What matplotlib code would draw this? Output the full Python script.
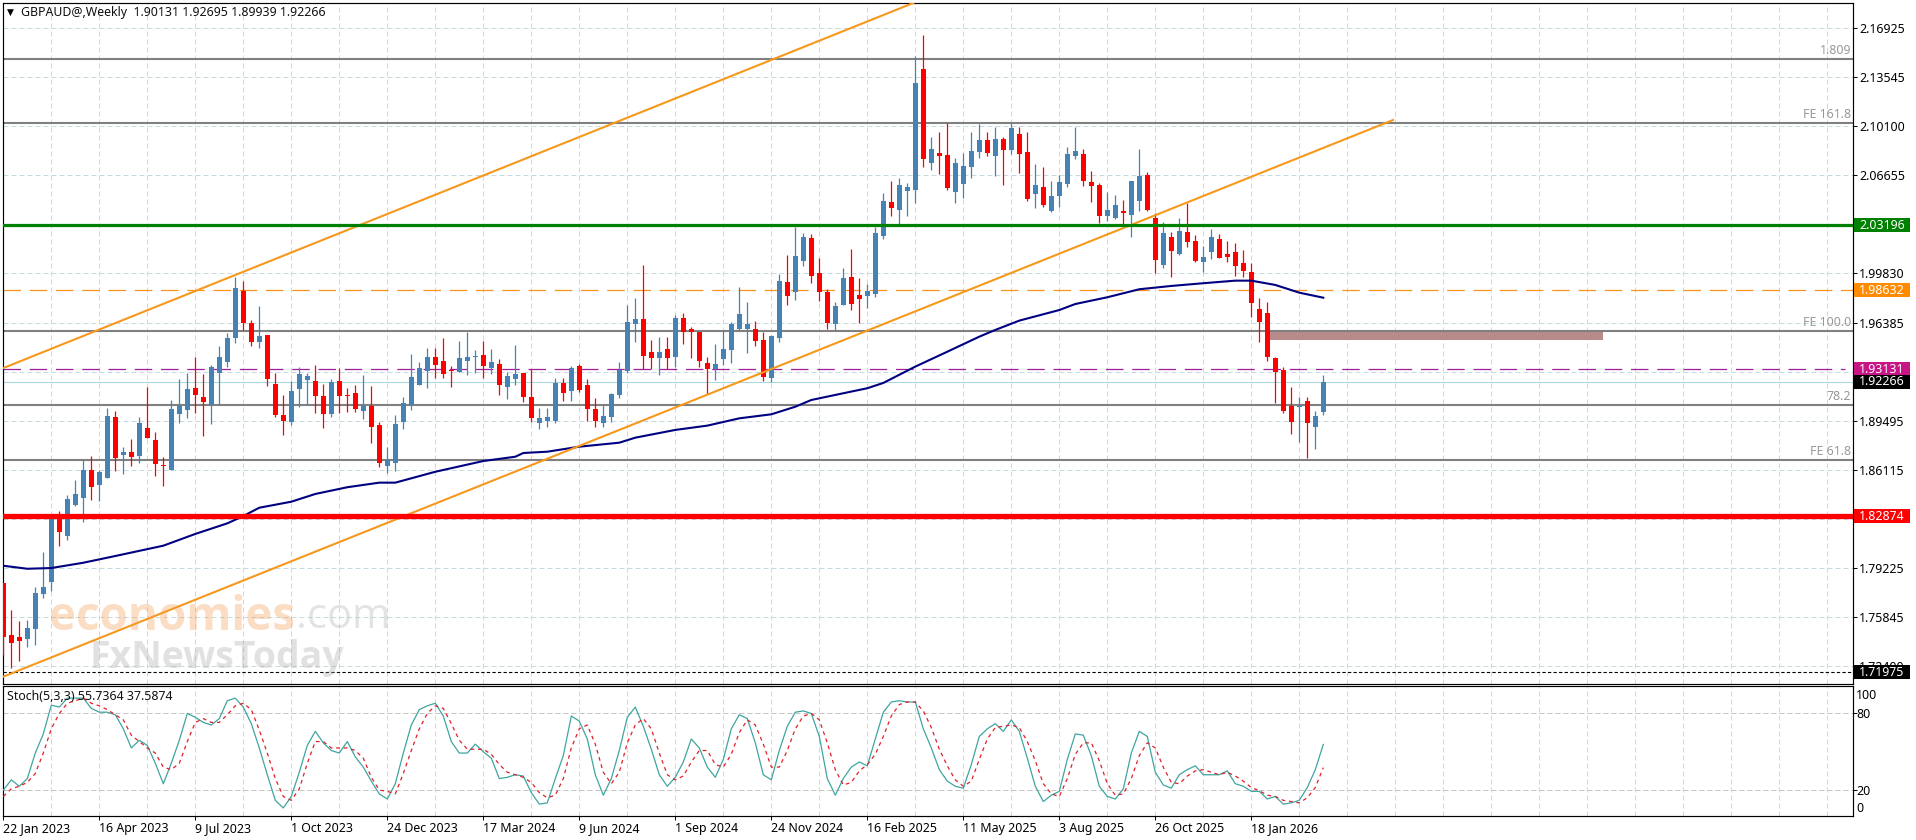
#!/usr/bin/env python3
"""GBPAUD weekly candle chart with stochastic sub window"""

import matplotlib
matplotlib.use('Agg')
import matplotlib.pyplot as plt
from matplotlib.patches import Rectangle
from matplotlib.transforms import blended_transform_factory
import numpy as np

plt.rcParams['font.family'] = ['Noto Sans', 'DejaVu Sans']

W, H = 1916, 840

opens = [
    1.7821, 1.7458, 1.7444, 1.7430, 1.7500, 1.7744, 1.7828, 1.8281, 1.8149, 1.8365,
    1.8414, 1.8609, 1.8505, 1.8554, 1.8979, 1.8714, 1.8735, 1.8707, 1.8903, 1.8819,
    1.8644, 1.8609, 1.9000, 1.9028, 1.9182, 1.9119, 1.9063, 1.9286, 1.9363, 1.9531,
    1.9859, 1.9635, 1.9503, 1.9552, 1.9210, 1.8993, 1.8944, 1.9175, 1.9238, 1.9231,
    1.9126, 1.9000, 1.9231, 1.9133, 1.9147, 1.9021, 1.9056, 1.8923, 1.8637, 1.8658,
    1.8944, 1.9063, 1.9203, 1.9300, 1.9398, 1.9370, 1.9307, 1.9293, 1.9370, 1.9398,
    1.9412, 1.9321, 1.9349, 1.9189, 1.9245, 1.9286, 1.9119, 1.8937, 1.8951, 1.8951,
    1.9217, 1.9161, 1.9335, 1.9203, 1.9035, 1.8937, 1.8979, 1.9133, 1.9300, 1.9628,
    1.9663, 1.9433, 1.9391, 1.9454, 1.9398, 1.9670, 1.9594, 1.9573, 1.9356, 1.9314,
    1.9384, 1.9447, 1.9594, 1.9594, 1.9594, 1.9517, 1.9252, 1.9531, 1.9922, 1.9852,
    2.0068, 2.0229, 1.9984, 1.9852, 1.9628, 1.9761, 1.9957, 1.9831, 1.9824, 1.9838,
    2.0243, 2.0480, 2.0424, 2.0557, 2.0564, 2.1408, 2.0752, 2.0822, 2.0808, 2.0550,
    2.0606, 2.0724, 2.0829, 2.0913, 2.0801, 2.0920, 2.0843, 2.0955, 2.0829, 2.0536,
    2.0585, 2.0417, 2.0522, 2.0606, 2.0801, 2.0815, 2.0620, 2.0599, 2.0382, 2.0368,
    2.0417, 2.0389, 2.0487, 2.0669, 2.0368, 2.0040, 2.0236, 2.0117, 2.0271, 2.0208,
    2.0061, 2.0131, 2.0222, 2.0117, 2.0131, 2.0054, 1.9991, 1.9733, 1.9705, 1.9391,
    1.9307, 1.9056, 1.9049, 1.9091, 1.8909, 1.90131,
]
highs = [
    1.7821, 1.7632, 1.7555, 1.7562, 1.7793, 1.8037, 1.8281, 1.8323, 1.8435, 1.8540,
    1.8679, 1.8707, 1.8609, 1.9042, 1.9021, 1.8770, 1.8826, 1.8979, 1.9189, 1.8875,
    1.8700, 1.9098, 1.9245, 1.9286, 1.9398, 1.9280, 1.9342, 1.9475, 1.9566, 1.9957,
    1.9929, 1.9656, 1.9754, 1.9552, 1.9286, 1.9133, 1.9231, 1.9328, 1.9286, 1.9342,
    1.9210, 1.9245, 1.9321, 1.9182, 1.9203, 1.9273, 1.9196, 1.8944, 1.8770, 1.8993,
    1.9119, 1.9419, 1.9363, 1.9461, 1.9461, 1.9531, 1.9335, 1.9510, 1.9573, 1.9447,
    1.9510, 1.9454, 1.9384, 1.9293, 1.9482, 1.9286, 1.9314, 1.9042, 1.9042, 1.9252,
    1.9252, 1.9335, 1.9349, 1.9245, 1.9112, 1.9063, 1.9147, 1.9363, 1.9761, 1.9810,
    2.0040, 1.9517, 1.9538, 1.9538, 1.9691, 1.9705, 1.9608, 1.9573, 1.9398, 1.9489,
    1.9580, 1.9642, 1.9887, 1.9782, 1.9649, 1.9573, 1.9552, 1.9978, 2.0110, 2.0306,
    2.0264, 2.0257, 2.0089, 1.9873, 1.9782, 2.0019, 2.0152, 1.9950, 1.9908, 2.0306,
    2.0543, 2.0627, 2.0648, 2.0613, 2.1499, 2.1646, 2.0934, 2.0969, 2.1031, 2.0787,
    2.0822, 2.0969, 2.1025, 2.0969, 2.1004, 2.0934, 2.1031, 2.1004, 2.0969, 2.0745,
    2.0724, 2.0627, 2.0669, 2.0864, 2.1004, 2.0850, 2.0696, 2.0613, 2.0550, 2.0529,
    2.0494, 2.0627, 2.0850, 2.0690, 2.0403, 2.0340, 2.0271, 2.0368, 2.0473, 2.0250,
    2.0173, 2.0292, 2.0257, 2.0208, 2.0194, 2.0145, 2.0054, 1.9810, 1.9782, 1.9398,
    1.9328, 1.9189, 1.9119, 1.9119, 1.9021, 1.92695,
]
lows = [
    1.7318, 1.7227, 1.7276, 1.7374, 1.7388, 1.7716, 1.7765, 1.8079, 1.8121, 1.8358,
    1.8246, 1.8400, 1.8393, 1.8554, 1.8602, 1.8581, 1.8637, 1.8658, 1.8833, 1.8568,
    1.8498, 1.8609, 1.8937, 1.8972, 1.9007, 1.8847, 1.8930, 1.9063, 1.9328, 1.9496,
    1.9587, 1.9475, 1.9461, 1.9196, 1.8979, 1.8854, 1.8923, 1.9049, 1.9063, 1.9007,
    1.8903, 1.8979, 1.9007, 1.9014, 1.9014, 1.8965, 1.8798, 1.8630, 1.8588, 1.8602,
    1.8896, 1.9028, 1.9203, 1.9182, 1.9252, 1.9252, 1.9189, 1.9293, 1.9273, 1.9286,
    1.9252, 1.9280, 1.9133, 1.9105, 1.9203, 1.9084, 1.8944, 1.8896, 1.8909, 1.8937,
    1.9091, 1.9091, 1.9154, 1.8951, 1.8909, 1.8909, 1.8944, 1.9112, 1.9286, 1.9503,
    1.9314, 1.9314, 1.9273, 1.9314, 1.9328, 1.9489, 1.9391, 1.9328, 1.9140, 1.9238,
    1.9342, 1.9356, 1.9587, 1.9426, 1.9475, 1.9231, 1.9224, 1.9503, 1.9761, 1.9796,
    2.0033, 1.9915, 1.9789, 1.9594, 1.9587, 1.9761, 1.9726, 1.9635, 1.9740, 1.9817,
    2.0222, 2.0382, 2.0326, 2.0382, 2.0473, 2.0724, 2.0703, 2.0675, 2.0564, 2.0473,
    2.0508, 2.0648, 2.0787, 2.0801, 2.0661, 2.0599, 2.0815, 2.0682, 2.0487, 2.0438,
    2.0445, 2.0410, 2.0445, 2.0585, 2.0780, 2.0592, 2.0480, 2.0333, 2.0347, 2.0361,
    2.0326, 2.0236, 2.0417, 2.0417, 1.9984, 2.0019, 1.9957, 2.0110, 2.0166, 2.0061,
    1.9991, 2.0082, 2.0089, 2.0061, 1.9964, 1.9957, 1.9677, 1.9503, 1.9370, 1.9077,
    1.9007, 1.8861, 1.8805, 1.8693, 1.8756, 1.89939,
]
closes = [
    1.7444, 1.7402, 1.7416, 1.7507, 1.7751, 1.7793, 1.8281, 1.8177, 1.8407, 1.8442,
    1.8609, 1.8491, 1.8595, 1.8986, 1.8693, 1.8735, 1.8700, 1.8937, 1.8833, 1.8651,
    1.8637, 1.9035, 1.9056, 1.9175, 1.9133, 1.9084, 1.9328, 1.9398, 1.9531, 1.9880,
    1.9635, 1.9503, 1.9545, 1.9245, 1.8993, 1.8951, 1.9161, 1.9280, 1.9266, 1.9126,
    1.9000, 1.9224, 1.9126, 1.9126, 1.9035, 1.9056, 1.8909, 1.8658, 1.8679, 1.8930,
    1.9077, 1.9259, 1.9321, 1.9398, 1.9342, 1.9280, 1.9300, 1.9391, 1.9398, 1.9405,
    1.9335, 1.9363, 1.9203, 1.9266, 1.9280, 1.9119, 1.8972, 1.8972, 1.8979, 1.9217,
    1.9147, 1.9321, 1.9168, 1.9035, 1.8951, 1.8986, 1.9140, 1.9307, 1.9642, 1.9663,
    1.9405, 1.9391, 1.9433, 1.9391, 1.9670, 1.9573, 1.9573, 1.9370, 1.9314, 1.9349,
    1.9454, 1.9628, 1.9698, 1.9628, 1.9510, 1.9259, 1.9545, 1.9929, 1.9824, 2.0103,
    2.0236, 1.9963, 1.9852, 1.9635, 1.9754, 1.9950, 1.9768, 1.9803, 1.9859, 2.0264,
    2.0487, 2.0438, 2.0599, 2.0585, 2.1311, 2.0780, 2.0850, 2.0801, 2.0578, 2.0752,
    2.0731, 2.0836, 2.0913, 2.0822, 2.0920, 2.0843, 2.0997, 2.0815, 2.0501, 2.0599,
    2.0459, 2.0522, 2.0620, 2.0815, 2.0836, 2.0627, 2.0592, 2.0382, 2.0424, 2.0459,
    2.0403, 2.0627, 2.0662, 2.0424, 2.0075, 2.0264, 2.0138, 2.0278, 2.0201, 2.0068,
    2.0096, 2.0236, 2.0089, 2.0096, 2.0033, 1.9998, 1.9775, 1.9642, 1.9398, 1.9293,
    1.9021, 1.8944, 1.9056, 1.8937, 1.8986, 1.92266,
]

ma_bars = [0, 3, 6, 10, 14, 20, 24, 28, 30, 32, 36, 39, 43, 47, 49, 54, 60, 64, 65, 68,
           72, 77, 79, 84, 88, 92, 96, 99, 101, 105, 108, 110, 114, 118, 122, 124, 127,
           132, 134, 138, 142, 146, 150, 154, 156, 159, 162, 165]
ma_vals = [1.7941, 1.7920, 1.7925, 1.7962, 1.8009, 1.8081, 1.8163, 1.8237, 1.8288, 1.8346,
           1.8388, 1.8442, 1.8489, 1.8521, 1.8521, 1.8597, 1.8672, 1.8702, 1.8728, 1.8737,
           1.8772, 1.8800, 1.8835, 1.8889, 1.8919, 1.8970, 1.8998, 1.9051, 1.9098, 1.9145,
           1.9180, 1.9217, 1.9331, 1.9435, 1.9540, 1.9587, 1.9652, 1.9726, 1.9768, 1.9815,
           1.9871, 1.9894, 1.9913, 1.9931, 1.9931, 1.9901, 1.9847, 1.9812]

stoch_k = [
    20, 28, 23, 29, 49, 64, 86.5, 85, 92, 92,
    92, 84, 81, 81, 79, 68, 53, 59, 55, 41,
    25, 41, 59, 80, 77, 73, 71, 76, 90, 92,
    85, 72, 53, 32, 12, 6, 15, 34, 55, 66,
    57, 51, 49, 58, 46, 38, 27, 17, 13, 25,
    49, 71, 83, 86, 88, 78, 58, 49, 49, 56,
    50, 45, 29, 30, 32, 31, 18, 9, 10, 29,
    47, 78, 74, 60, 32, 16, 29, 51, 77, 85,
    70, 52, 32, 23, 30, 42, 60, 53, 38, 30,
    44, 68, 79, 76, 57, 32, 28, 51, 70, 81,
    82, 80, 62, 29, 16, 29, 38, 42, 39, 60,
    81, 89, 90, 89, 89, 68, 53, 36, 27, 23,
    21.5, 40, 62, 68, 72, 66, 75, 66, 45, 23,
    11, 16, 19, 44, 64, 63, 47, 23, 15, 13,
    21, 49, 66, 62, 34, 24, 21.5, 32, 36, 39,
    32, 32, 32, 35, 25, 23, 19, 19, 13, 15,
    9, 10, 12, 22, 36, 55.7364,
]
stoch_d = [
    15, 21, 23, 26, 33, 49, 68, 80, 88, 90,
    92, 88, 86, 83, 79, 75, 63, 58, 53, 49,
    38, 36, 41, 58, 73, 76, 73, 73, 79, 86,
    88, 83, 67, 49, 29, 15, 12, 21, 41, 58,
    58, 53, 53, 53, 51, 45, 30, 20, 19, 17,
    33, 51, 68, 80, 86, 84, 72, 59, 52, 52,
    52, 48, 40, 34, 32, 30, 26, 18, 14, 16,
    29, 53, 68, 71, 56, 34, 25, 34, 57, 71,
    76, 68, 49, 32, 28, 31, 42, 51, 51, 40,
    38, 48, 65, 75, 71, 56, 38, 38, 51, 68,
    78, 80, 75, 57, 36, 24, 26, 35, 40, 48,
    62, 78, 87, 89, 89, 82, 69, 52, 39, 28,
    23, 27, 44, 60, 69, 70, 71, 69, 58, 43,
    25, 17, 15, 29, 48, 57, 57, 43, 25, 16,
    17, 29, 47, 57, 53, 38, 26, 25, 31, 35,
    36, 34, 32, 34, 31, 27, 22, 19.5, 16, 15,
    12, 11, 10, 14, 22, 37.5874,
]

price_ticks = [2.16925, 2.13545, 2.10100, 2.06655, 2.03210, 1.99830, 1.96385, 1.92940,
               1.89495, 1.86115, 1.82670, 1.79225, 1.75845, 1.72400]
# these three sit under the coloured tags, the reference shows no text for them
price_tick_labels = ['2.16925', '2.13545', '2.10100', '2.06655', '', '1.99830', '1.96385', '',
                     '1.89495', '1.86115', '', '1.79225', '1.75845', '1.72400']
date_labels = ['22 Jan 2023', '16 Apr 2023', '9 Jul 2023', '1 Oct 2023', '24 Dec 2023',
               '17 Mar 2024', '9 Jun 2024', '1 Sep 2024', '24 Nov 2024', '16 Feb 2025',
               '11 May 2025', '3 Aug 2025', '26 Oct 2025', '18 Jan 2026']

fib_levels = [2.1478, 2.1031, 1.9580, 1.9063, 1.8679]
fib_labels = ['1.809', 'FE 161.8', 'FE 100.0', '78.2', 'FE 61.8']

resist_green = 2.03196
pivot_orange = 1.98632
pivot_purple = 1.93131
last_close = 1.92266
support_red = 1.82874
low_black = 1.71975

channel_upper = ([0, 113.75], [1.9321, 2.1869])
channel_lower = ([0, 173.7], [1.7167, 2.1052])
zone_bars = (158.3, 200.0)
zone_prices = (1.9520, 1.9587)

BLUE = '#4682B4'
RED = '#FF0000'
GRID = '#C6DADF'
TICK_FS = 8.9


def axes_from_px(left, top, right, bottom):
    return fig.add_axes([left / W, 1 - bottom / H, (right - left) / W, (bottom - top) / H])


def fig_text(x, y, s, **kw):
    fig.text(x / W, 1 - y / H, s, va='center', **kw)


fig = plt.figure(figsize=(W / 100, H / 100), dpi=100, facecolor='white')
ax = axes_from_px(3, 3, 1852.5, 683.8)
sub = axes_from_px(3, 686.4, 1852.5, 816)

xlim = (-0.0375, 231.15)
ax.set_xlim(*xlim)
ax.set_ylim(1.7117, 2.1869)
sub.set_xlim(*xlim)
sub.set_ylim(-0.3, 101.2)

for a in (ax, sub):
    a.set_axisbelow(True)
    for side in a.spines.values():
        side.set_linewidth(0.85)
        side.set_color('black')
    for b in range(6, 232, 6):
        a.axvline(b, color=GRID, lw=0.72, ls=(0, (5, 3)), zorder=0.5)

# price axis
ax.yaxis.tick_right()
ax.set_yticks(price_ticks)
ax.set_yticklabels(price_tick_labels, fontsize=TICK_FS)
ax.tick_params(axis='y', length=2.6, width=0.7, pad=2.2)
ax.set_xticks([])
ax.grid(axis='y', color=GRID, lw=0.72, ls=(0, (5, 3)))

# horizontal objects
for lvl, txt in zip(fib_levels, fib_labels):
    ax.axhline(lvl, color='#808080', lw=1.5, zorder=1.5)
    ax.annotate(txt, (1, lvl), xycoords=ax.get_yaxis_transform(), xytext=(-1, 1.5),
                textcoords='offset points', ha='right', va='bottom', fontsize=TICK_FS,
                color='#999999', zorder=6)
ax.add_patch(Rectangle((zone_bars[0], zone_prices[0]), zone_bars[1] - zone_bars[0],
                       zone_prices[1] - zone_prices[0], fc='#B78B8B', ec='none', zorder=1.4))
ax.axhline(pivot_orange, color='#F7931E', lw=0.9, ls=(0, (14, 7)), zorder=1.6)
ax.axhline(pivot_purple, xmax=0.996, color='#A0209A', lw=0.9, ls=(0, (14, 7)), zorder=1.6)
ax.axhline(last_close, color='#A9D9DE', lw=0.8, zorder=1.6)
ax.axhline(low_black, color='black', lw=0.8, ls=(0, (3, 2)), zorder=1.6)

# candles
bars = np.arange(len(opens))
o, h, l, c = map(np.array, (opens, highs, lows, closes))
up = c >= o
colors = np.where(up, BLUE, RED)
ax.vlines(bars, l, h, colors=colors, lw=0.9, zorder=3)
ax.bar(bars, np.maximum(np.abs(c - o), 0.0006), bottom=np.minimum(o, c), width=0.62,
       color=colors, lw=0, zorder=3.1)

ax.plot(ma_bars, ma_vals, color='#000080', lw=1.5, zorder=4, solid_joinstyle='round')
ax.plot(*channel_upper, color='#F7981D', lw=1.5, zorder=5)
ax.plot(*channel_lower, color='#F7981D', lw=1.5, zorder=5)
ax.axhline(resist_green, color='#008000', lw=2.3, zorder=5.5)
ax.axhline(support_red, color='#FF0000', lw=3.8, zorder=5.5)

# coloured price tags on the axis
tag_tf = blended_transform_factory(ax.transAxes, ax.transData)
tags = [(resist_green, '#008000'), (pivot_orange, '#FF8C00'), (pivot_purple, '#C71585'),
        (support_red, '#FF0000'), (low_black, '#000000'), (last_close, '#000000')]
for price, col in tags:
    ax.add_patch(Rectangle((1 + 1.5 / 1849.5, price - 0.0049), 56 / 1849.5, 0.0098, fc=col,
                           ec='none', transform=tag_tf, clip_on=False, zorder=10))
    ax.text(1 + 6.5 / 1849.5, price - 0.0003, f'{price:.5f}', transform=tag_tf, color='white',
            fontsize=TICK_FS, ha='left', va='center', zorder=11, clip_on=False)

# stochastic window
sub.plot(bars, stoch_k, color='#3FA5A0', lw=0.9, zorder=3)
sub.plot(bars, stoch_d, color='#E0202A', lw=0.9, ls=(0, (3, 3)), zorder=3.1)
sub.yaxis.tick_right()
sub.set_yticks([20, 80])
sub.set_yticklabels(['20', '80'], fontsize=TICK_FS)
sub.tick_params(axis='y', length=2.6, width=0.7, pad=0.5)
sub.grid(axis='y', color='#C4C4C4', lw=0.72, ls=(0, (5, 3)))
sub.text(1 + 3.5 / 1849.5, 93.7, '100', transform=sub.get_yaxis_transform(), fontsize=TICK_FS,
         va='center', ha='left', clip_on=False)
sub.text(1 + 3.5 / 1849.5, 5.4, '0', transform=sub.get_yaxis_transform(), fontsize=TICK_FS,
         va='center', ha='left', clip_on=False)

sub.set_xticks(np.arange(len(date_labels)) * 12)
sub.set_xticklabels(date_labels, fontsize=TICK_FS, ha='left')
sub.tick_params(axis='x', length=2.6, width=0.7, pad=2)

# header lines
fig_text(7, 12, '\u25bc', fontsize=6.5, family='DejaVu Sans', color='black')
fig_text(21, 12.5, 'GBPAUD@,Weekly  1.90131 1.92695 1.89939 1.92266', fontsize=TICK_FS, color='#111111')
fig_text(7, 697, 'Stoch(5,3,3) 55.7364 37.5874', fontsize=TICK_FS, color='#111111', zorder=7)

# watermark
fig_text(49, 617, 'economies', fontsize=33, fontweight='bold', family='Open Sans', color='#F59A4E',
         alpha=0.33, zorder=20)
fig_text(296, 617, '.com', fontsize=30, family='Open Sans', color='#BBBBBB', alpha=0.4, zorder=20)
fig_text(90, 658, 'FxNewsToday', fontsize=27, fontweight='bold', family='Open Sans', color='#AAAAAA',
         alpha=0.35, zorder=20)

fig.savefig('out.png', dpi=100)
